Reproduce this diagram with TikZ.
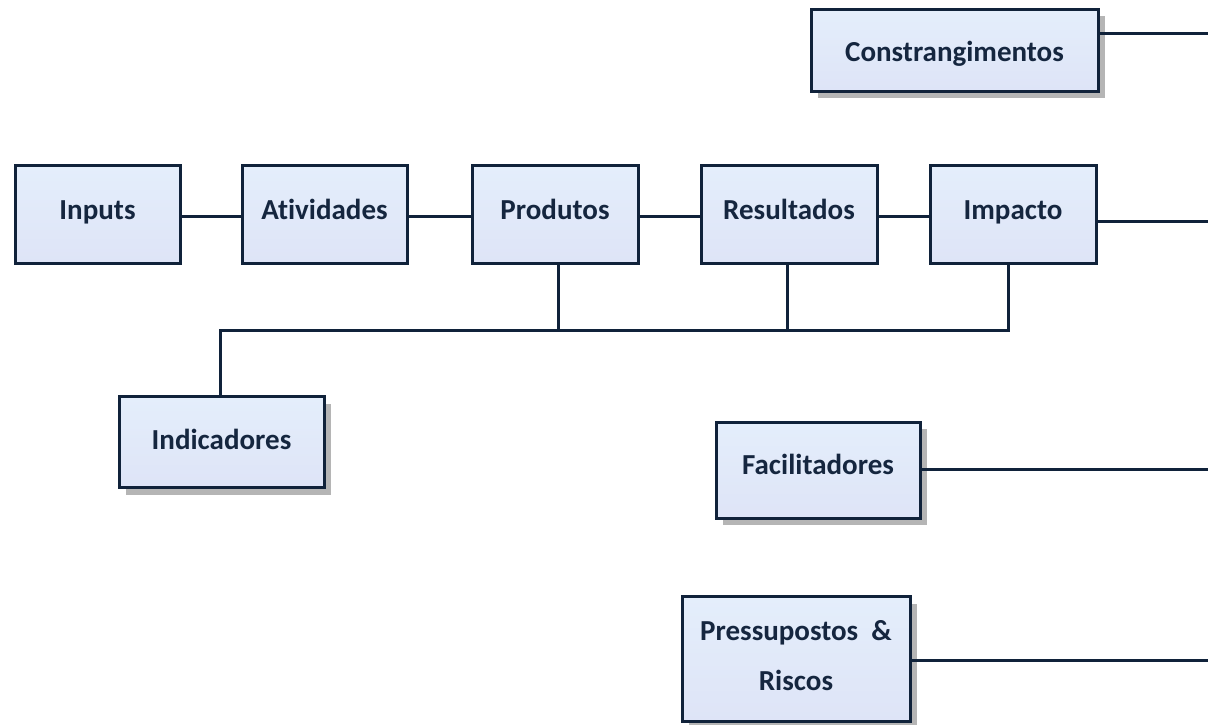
\documentclass[tikz,border=0pt]{standalone}
\usepackage{fontspec}
\setmainfont[Ligatures={NoCommon}]{Carlito}
\usetikzlibrary{shadows}
\definecolor{navy}{HTML}{10223A}
\definecolor{inktext}{HTML}{15263F}
\definecolor{boxtop}{HTML}{E4EEFB}
\definecolor{boxbot}{HTML}{DEE4F7}
\tikzset{
  boxnode/.style={rectangle, draw=navy, line width=3pt,
    top color=boxtop, bottom color=boxbot,
    text=inktext, font=\fontsize{29}{50}\selectfont\bfseries,
    inner sep=0pt, text height=19pt, text depth=10pt, align=center},
  shadowed/.style={drop shadow={shadow xshift=7pt, shadow yshift=-7pt,
    fill=black!32, opacity=0.9}},
  wire/.style={draw=navy, line width=3pt}
}
\begin{document}
\begin{tikzpicture}[x=1pt, y=-1pt]
\useasboundingbox (0,0) rectangle (1208,724);
\fill[white] (0,0) rectangle (1208,724);

% main chain
\node[boxnode, minimum width=165pt, minimum height=98pt] (inp) at (97.5,214.5) {Inputs};
\node[boxnode, minimum width=165pt, minimum height=98pt] (atv) at (324.5,214.5) {At\kern0pt ividades};
\node[boxnode, minimum width=166pt, minimum height=98pt] (prd) at (555,214.5) {Produtos};
\node[boxnode, minimum width=176pt, minimum height=98pt] (res) at (789,214.5) {Resultados};
\node[boxnode, minimum width=166pt, minimum height=98pt] (imp) at (1013,214.5) {Impacto};

% side boxes
\node[boxnode, shadowed, minimum width=287pt, minimum height=82pt,
      text height=22pt, text depth=0pt] (con) at (954.5,50) {Constrangimentos};
\node[boxnode, shadowed, minimum width=205pt, minimum height=91pt,
      text height=19pt, text depth=4pt] (ind) at (221.5,442) {Indicadores};
\node[boxnode, shadowed, minimum width=204pt, minimum height=96pt] (fac) at (818,470) {Facilitadores};
\node[boxnode, shadowed, minimum width=228pt, minimum height=125pt,
      text height={}, text depth=8pt] (pre) at (796,659) {Pressupostos\ \ \&\\Riscos};

% free ends at the right edge and the bus
\coordinate (conEnd) at (1208,33);
\coordinate (impEnd) at (1208,221);
\coordinate (facEnd) at (1208,469);
\coordinate (preEnd) at (1208,660);
\coordinate (busL) at (220,330);
\coordinate (busR) at (1008,330);

% chain links
\draw[wire] ([yshift=-1.5pt]inp.east) -- ([yshift=-1.5pt]atv.west);
\draw[wire] ([yshift=-1.5pt]atv.east) -- ([yshift=-1.5pt]prd.west);
\draw[wire] ([yshift=-1.5pt]prd.east) -- ([yshift=-1.5pt]res.west);
\draw[wire] ([yshift=-1.5pt]res.east) -- ([yshift=-1.5pt]imp.west);

% lines leaving to the right
\draw[wire] (con.east |- conEnd) -- (conEnd);
\draw[wire] (imp.east |- impEnd) -- (impEnd);
\draw[wire] (fac.east |- facEnd) -- (facEnd);
\draw[wire] (pre.east |- preEnd) -- (preEnd);

% indicator bus
\draw[wire, line join=miter] (imp.south -| busR) -- (busR) -- (busL) -- (ind.north -| busL);
\draw[wire] ([xshift=3pt]prd.south) -- ([xshift=3pt]prd.south |- busL);
\draw[wire] ([xshift=-2pt]res.south) -- ([xshift=-2pt]res.south |- busL);
\end{tikzpicture}
\end{document}
